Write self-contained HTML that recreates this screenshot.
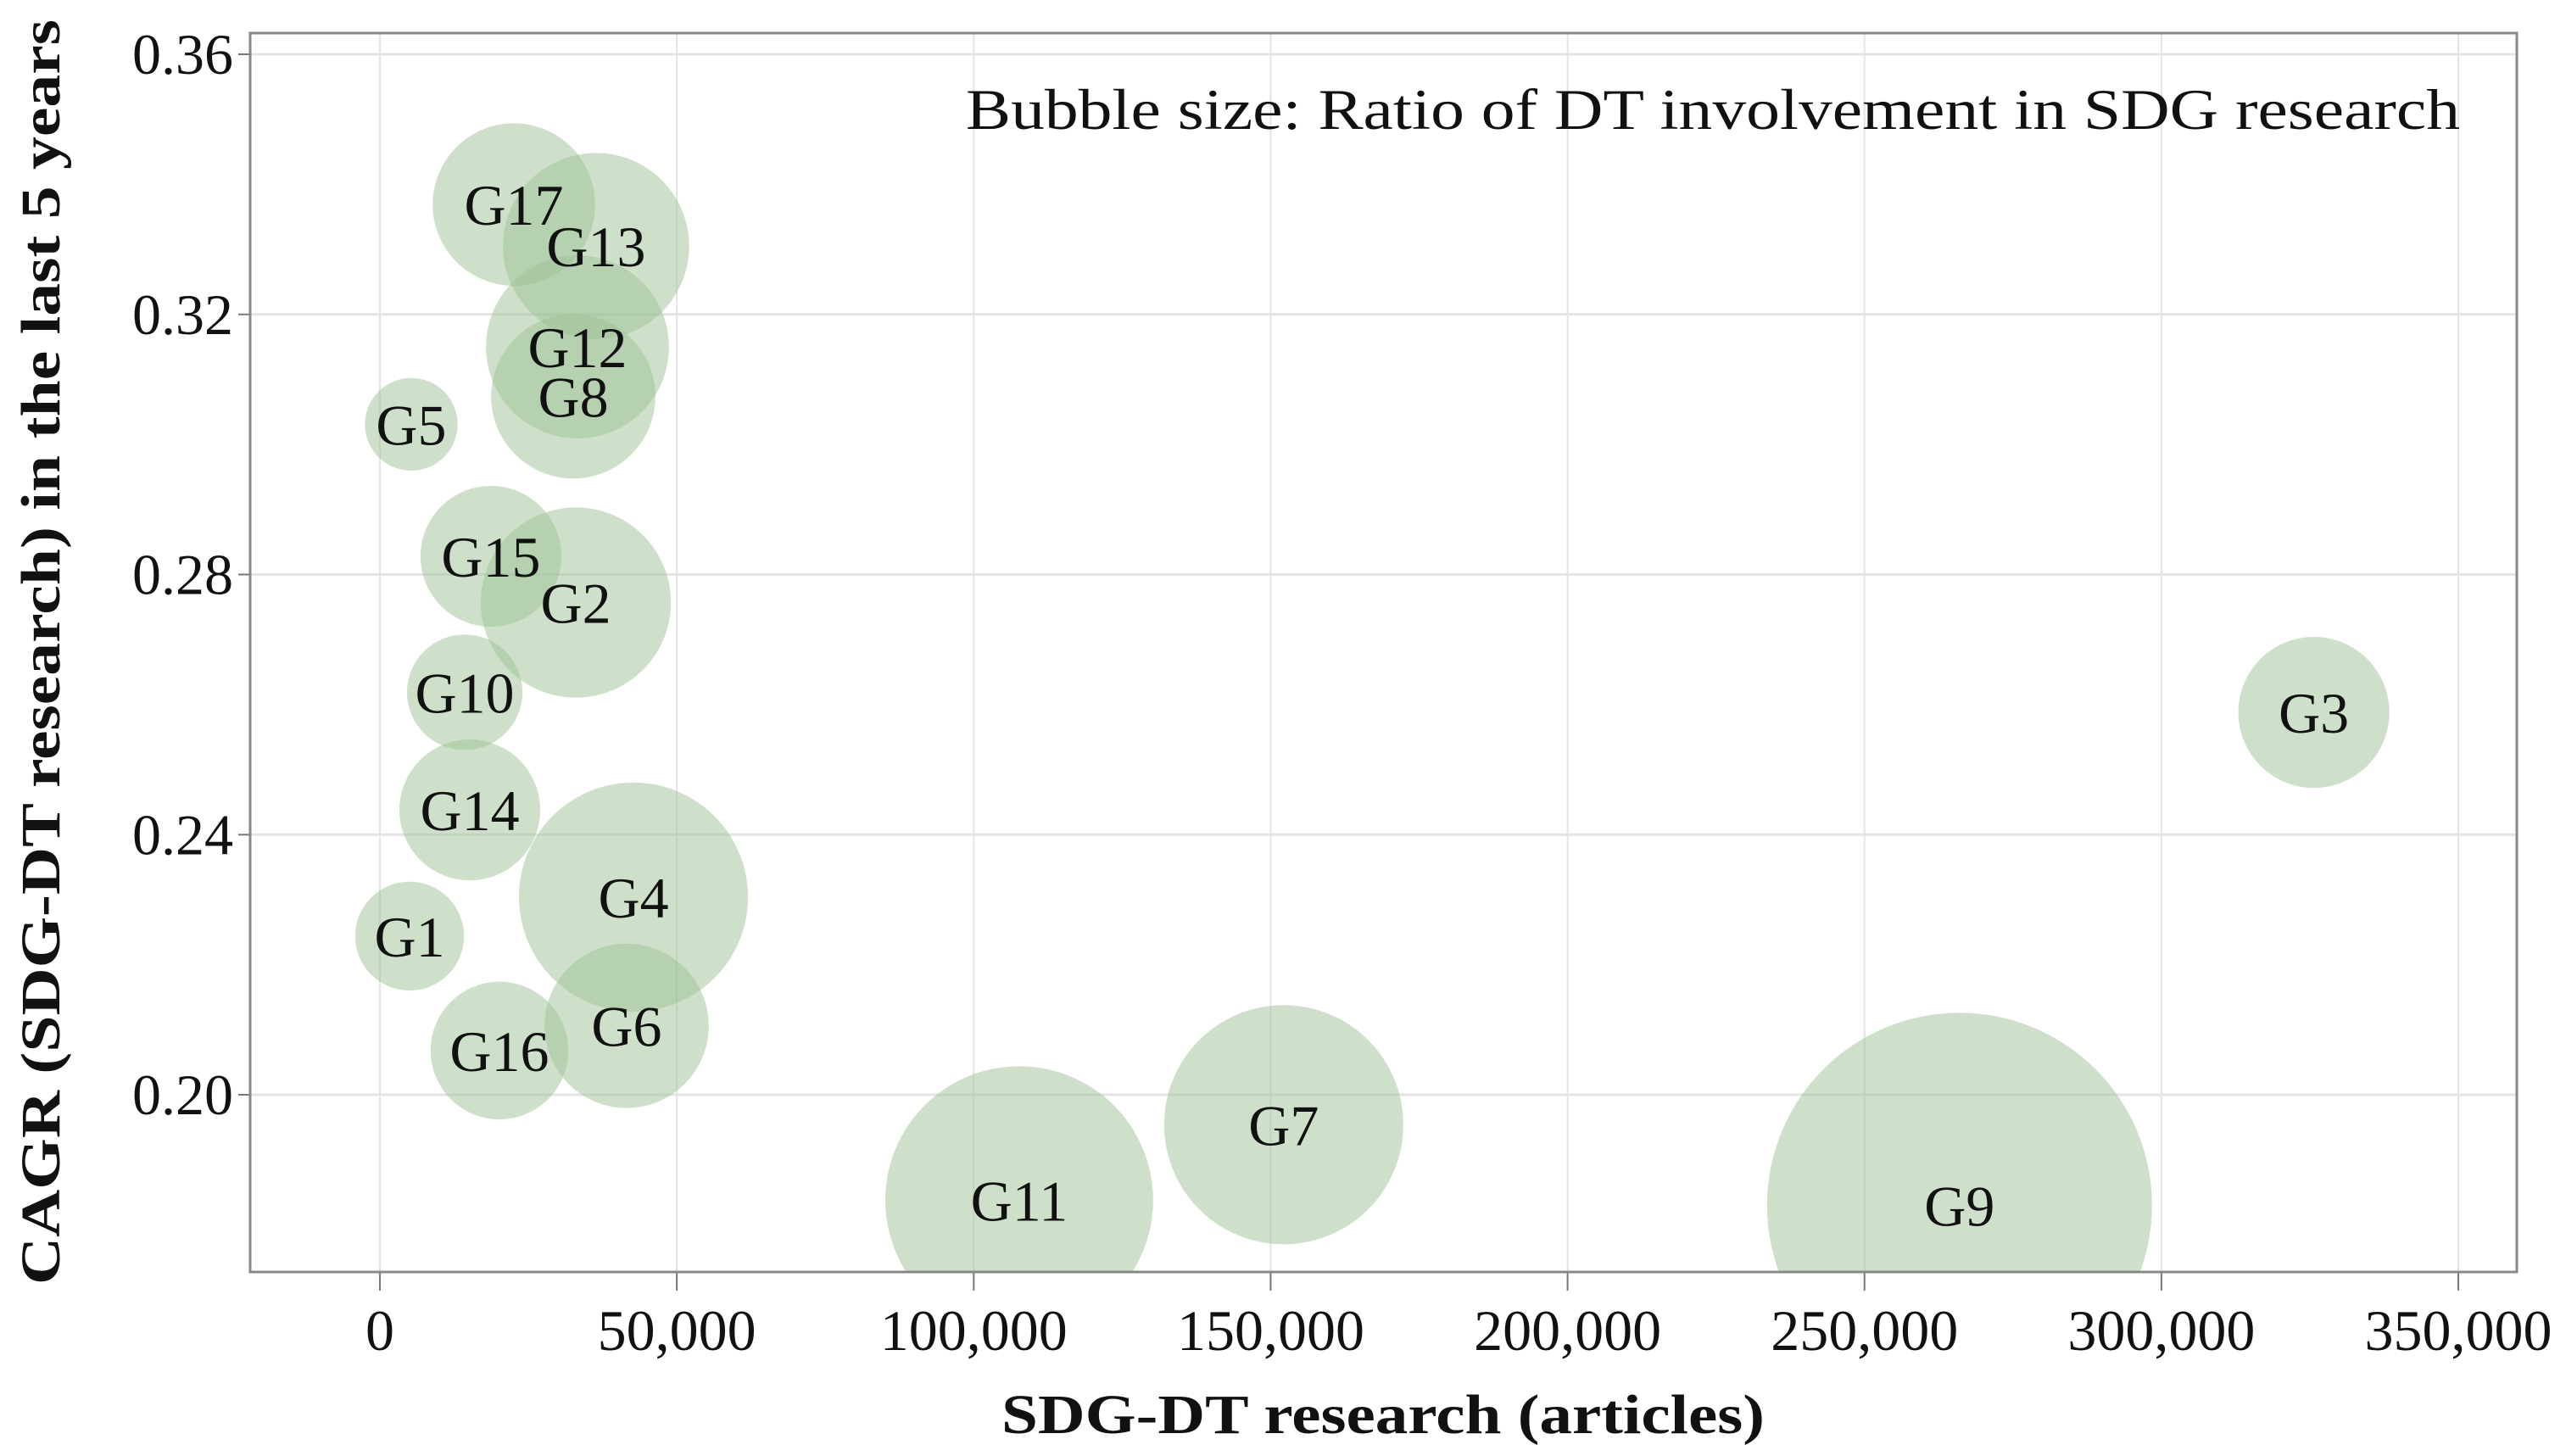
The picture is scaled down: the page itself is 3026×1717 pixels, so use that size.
<!DOCTYPE html>
<html><head><meta charset="utf-8"><style>
body{margin:0;background:#fff}
svg{display:block}
text{font-family:"Liberation Serif",serif;fill:#111}
</style></head><body>
<svg id="chart" width="3026" height="1717" viewBox="0 0 3026 1717" xmlns="http://www.w3.org/2000/svg">
<g id="grid"></g>
<g id="bubbles"></g>
<g id="axes"></g>
<text x="1139" y="152" font-size="68" textLength="1762" lengthAdjust="spacingAndGlyphs">Bubble size: Ratio of DT involvement in SDG research</text>
<text x="1181" y="1690" font-size="66" font-weight="bold" textLength="900" lengthAdjust="spacingAndGlyphs">SDG-DT research (articles)</text>
<text transform="translate(70,1515) rotate(-90)" font-size="66" font-weight="bold" textLength="1492" lengthAdjust="spacingAndGlyphs">CAGR (SDG-DT research) in the last 5 years</text>
</svg>
<script>
const labels = ["G17","G13","G12","G8","G5","G15","G2","G10","G14","G4","G1","G16","G6","G11","G7","G9","G3"];
const xValues = [22560,36400,33270,32560,5280,18700,33000,14280,15140,42700,5000,20130,41550,107660,152200,266000,325670];
const yValues = [0.3369,0.3305,0.3150,0.3074,0.3031,0.2828,0.2757,0.2619,0.2438,0.2304,0.2244,0.2068,0.2106,0.1838,0.1954,0.1830,0.2588];
const ratios = [0.089,0.117,0.113,0.091,0.029,0.067,0.122,0.045,0.067,0.177,0.040,0.064,0.091,0.242,0.193,0.500,0.077];
const xTicks = [0,50000,100000,150000,200000,250000,300000,350000];
const xTickLabels = ["0","50,000","100,000","150,000","200,000","250,000","300,000","350,000"];
const yTicks = [0.20,0.24,0.28,0.32,0.36];
const yTickLabels = ["0.20","0.24","0.28","0.32","0.36"];

const L=295,R=2968,T=39,B=1500;
const X0=-21850,X1=359850,Y0=0.17275,Y1=0.36326;
const sx=v=>L+(v-X0)/(X1-X0)*(R-L);
const sy=v=>B-(v-Y0)/(Y1-Y0)*(B-T);
const sr=v=>227*Math.sqrt(v/0.5);
const NS="http://www.w3.org/2000/svg";
function mk(tag,attrs,parent){const e=document.createElementNS(NS,tag);for(const k in attrs)e.setAttribute(k,attrs[k]);parent.appendChild(e);return e;}
const grid=document.getElementById('grid'),bub=document.getElementById('bubbles'),axes=document.getElementById('axes');
xTicks.forEach((t,i)=>{
  const gl=mk('line',{x1:sx(t),x2:sx(t),y1:T,y2:B,stroke:'#e4e4e4','stroke-width':2},grid);
  
  
  const tk=mk('line',{x1:sx(t),x2:sx(t),y1:B,y2:B+22,stroke:'#777','stroke-width':2},axes);
  
  
  const tx=mk('text',{x:sx(t),y:1592,'text-anchor':'middle','font-size':68},axes);
  tx.textContent=xTickLabels[i];
  
  
});
yTicks.forEach((t,i)=>{
  const gl=mk('line',{x1:L,x2:R,y1:sy(t),y2:sy(t),stroke:'#e4e4e4','stroke-width':3},grid);
  
  
  const tk=mk('line',{x1:L-14,x2:L,y1:sy(t),y2:sy(t),stroke:'#777','stroke-width':2},axes);
  
  
  const tx=mk('text',{x:L-20,y:sy(t)+23,'text-anchor':'end','font-size':68},axes);
  tx.textContent=yTickLabels[i];
  
  
});
const clip=mk('clipPath',{id:'pc'},mk('defs',{},document.getElementById('chart')));
mk('rect',{x:L,y:T,width:R-L,height:B-T},clip);
bub.setAttribute('clip-path','url(#pc)');
labels.forEach((lab,i)=>{
  const c=mk('circle',{cx:sx(xValues[i]),cy:sy(yValues[i]),r:sr(ratios[i]),fill:'#9dc296','fill-opacity':0.5},bub);
  
  
});
labels.forEach((lab,i)=>{
  const t=mk('text',{x:sx(xValues[i]),y:sy(yValues[i])+24,'text-anchor':'middle','font-size':68},bub);
  t.textContent=lab;
  
  
});
const fr=mk('rect',{x:L,y:T,width:R-L,height:B-T,fill:'none',stroke:'#888','stroke-width':3},axes);


</script>
</body></html>
